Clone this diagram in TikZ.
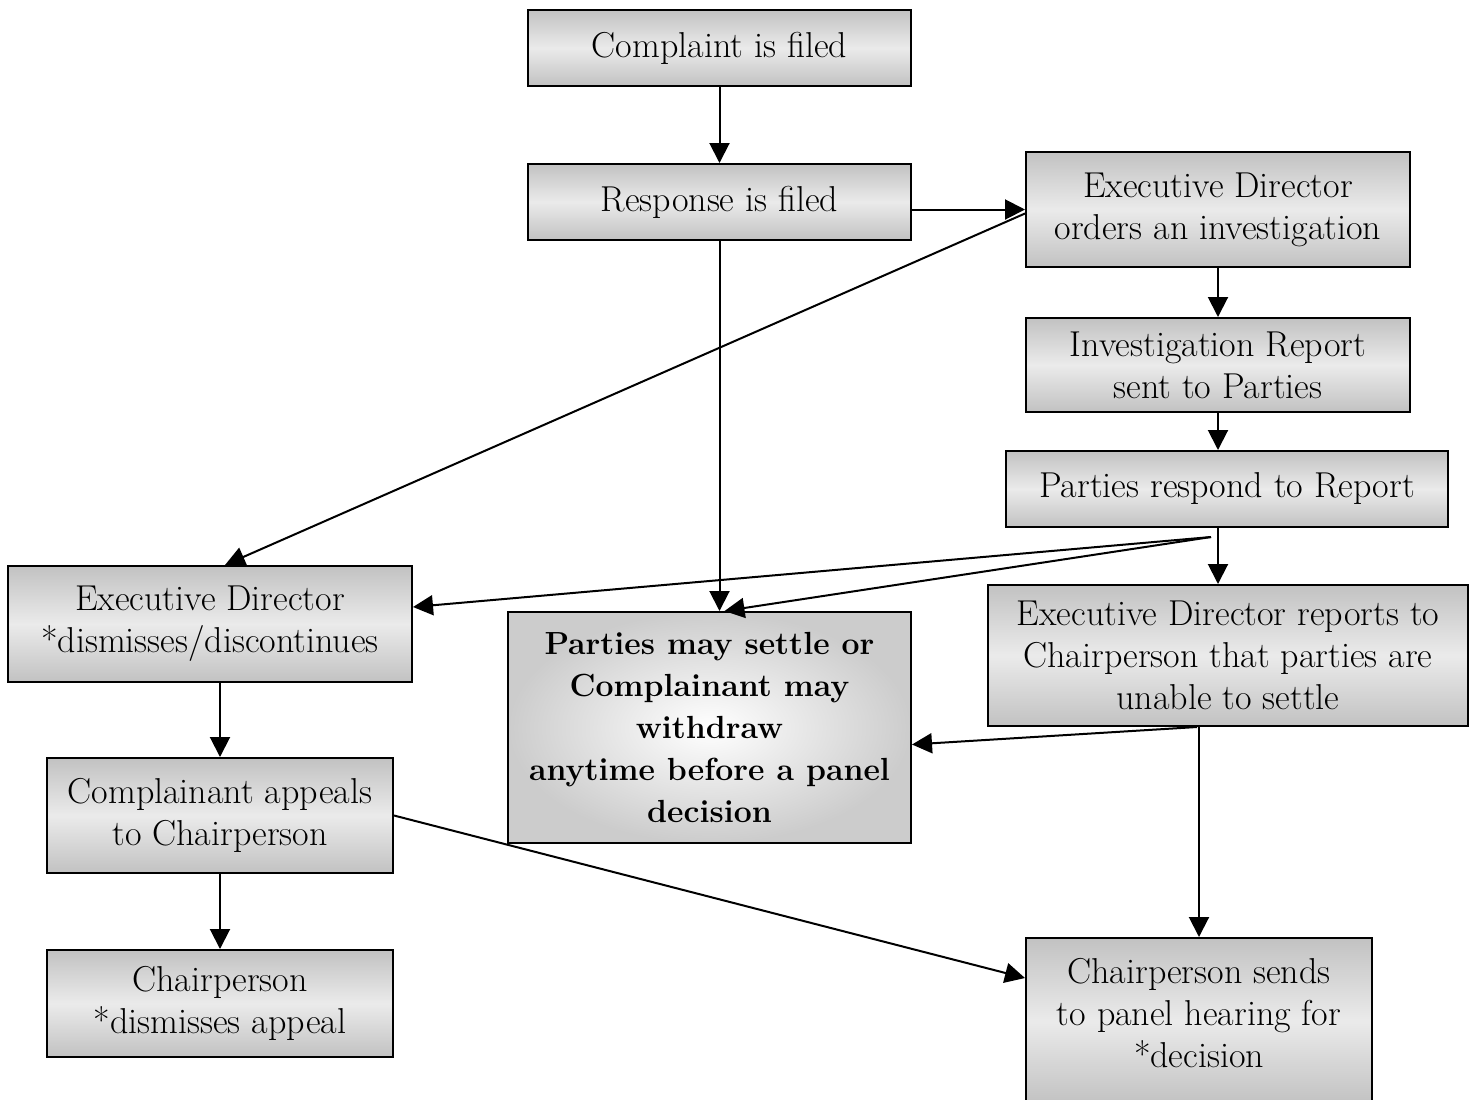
\documentclass[tikz,border=0pt]{standalone}
\usetikzlibrary{arrows.meta,calc}
\begin{document}
\begin{tikzpicture}[x=0.5pt,y=-0.5pt,
  box/.style={draw=black, line width=1pt, top color=black!24, bottom color=black!24, middle color=black!8,
    align=center, font=\fontsize{18}{21}\selectfont, inner sep=0pt},
  rbox/.style={draw=black, line width=1pt, inner color=white, outer color=black!20,
    align=center, font=\fontsize{16}{21}\selectfont\bfseries, inner sep=0pt},
  arr/.style={line width=1pt, -{Triangle[length=10pt,width=10pt]}}]
\useasboundingbox (0,0) rectangle (1474,1099);
\node[box, minimum width=191.5pt, minimum height=38pt] (c1) at (719.5,48) {Complaint is filed};
\node[box, minimum width=191.5pt, minimum height=38pt] (c2) at (719.5,202) {Response is filed};
\node[box, minimum width=192pt, minimum height=57.5pt] (eo) at (1218,209.5) {Executive Director\\orders an investigation};
\node[box, minimum width=192pt, minimum height=47pt] (ir) at (1218,365) {Investigation Report\\sent to Parties};
\node[box, minimum width=221pt, minimum height=38pt] (pr) at (1227,489) {Parties respond to Report};
\node[box, minimum width=240pt, minimum height=70.5pt] (er) at (1228,655.5) {Executive Director reports to\\Chairperson that parties are\\unable to settle};
\node[box, minimum width=202pt, minimum height=58pt] (ed) at (210,624) {Executive Director\\*dismisses/discontinues};
\node[rbox, minimum width=201.5pt, minimum height=115.5pt] (ps) at (709.5,727.5) {Parties may settle or\\Complainant may\\withdraw\\anytime before a panel\\decision};
\node[box, minimum width=173pt, minimum height=57.5pt] (ca) at (220,815.5) {Complainant appeals\\to Chairperson};
\node[box, minimum width=173pt, minimum height=53.5pt] (cd) at (220,1003.5) {Chairperson\\*dismisses appeal};
\node[box, minimum width=173pt, minimum height=83pt] (cs) at (1199,1021) {Chairperson sends\\to panel hearing for\\*decision\\[-13pt]};
\coordinate (pj) at (1211,537);
\draw[arr] (c1) -- (c2);
\draw[arr] (c2.east |- eo.west) -- (eo.west);
\draw[arr] ($(eo.west)+(0,4)$) -- ($(ed.north)+(15,0)$);
\draw[arr] (c2.south) -- (c2.south |- ps.north);
\draw[arr] (eo) -- (ir);
\draw[arr] (ir.south) -- (ir.south |- pr.north);
\draw[arr] (pr.south -| ir.south) -- (er.north -| ir.south);
\draw[arr] (pj) -- ($(ed.east)+(0,-17)$);
\draw[arr] (pj) -- ($(ps.north)+(15,0)$);
\draw[arr] ($(er.south)+(-31,0)$) -- ($(ps.east)+(0,17)$);
\draw[arr] ($(er.south)+(-29,0)$) -- (cs.north);
\draw[arr] (ed.south -| ca.north) -- (ca.north);
\draw[arr] (ca) -- (cd);
\draw[arr] (ca.east) -- ($(cs.west)+(0,-43)$);
\end{tikzpicture}
\end{document}
